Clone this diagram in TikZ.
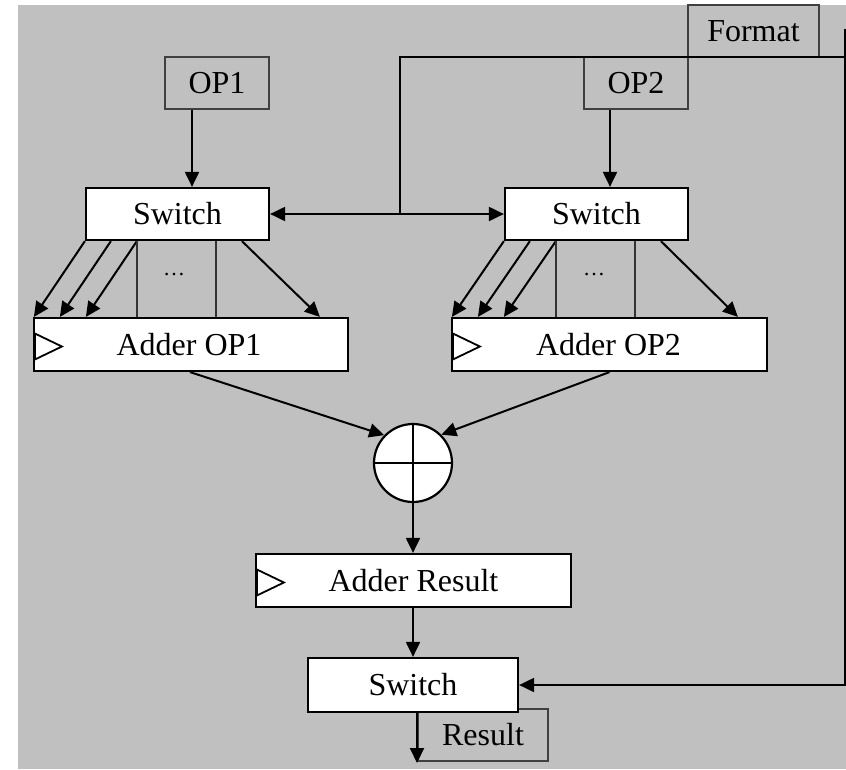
\documentclass[tikz,border=0pt]{standalone}
\usepackage{fontspec}
\setmainfont{Liberation Serif}
\usetikzlibrary{arrows.meta,calc}
\begin{document}
\begin{tikzpicture}[x=1pt,y=-1pt,
  every node/.style={font=\fontsize{32}{38}\selectfont, inner sep=0pt},
  blk/.style={draw=black, fill=white, line width=2.2pt, rectangle},
  lbl/.style={draw=black!75, line width=1.4pt, rectangle},
  conn/.style={line width=2pt, draw=black},
  arr/.style={conn, -{Triangle[length=15pt,width=14pt]}},
  thin/.style={line width=1.3pt, draw=black!80},
  sumc/.style={draw=black, fill=white, line width=2.2pt, circle, minimum size=78pt},
  trig/.style={draw=black, fill=white, line width=1.8pt, line join=miter}
]
% canvas
\useasboundingbox (0,0) rectangle (846,769);
\fill[white] (0,0) rectangle (846,769);
\fill[fill={rgb,255:red,192;green,192;blue,192}] (18,5) rectangle (846,769);

% label boxes
\node[lbl, minimum width=131pt, minimum height=52pt] (fmt) at (753.5,31) {Format};
\node[lbl, minimum width=104pt, minimum height=52pt] (op1) at (217,83) {OP1};
\node[lbl, minimum width=104pt, minimum height=52pt] (op2) at (636,83) {OP2};
\node[lbl, minimum width=130pt, minimum height=52pt] (res) at (483,735) {Result};

% blocks
\node[blk, minimum width=183pt, minimum height=52pt] (sw1) at (177.5,214) {Switch};
\node[blk, minimum width=183pt, minimum height=52pt] (sw2) at (596.5,214) {Switch};
\node[blk, minimum width=314pt, minimum height=53pt] (ad1) at (191,344.5) {\hspace*{-4pt}Adder OP1};
\node[blk, minimum width=315pt, minimum height=53pt] (ad2) at (609.5,344.5) {\hspace*{-2pt}Adder OP2};
\node[sumc] (sum) at (413,463) {};
\node[blk, minimum width=315pt, minimum height=53pt] (adr) at (413.5,580.5) {Adder Result};
\node[blk, minimum width=210pt, minimum height=54pt] (sw3) at (413,685) {Switch};

% clock triangles
\draw[trig] ($(ad1.west)+(2,-11)$) -- ++(27,13) -- ++(-27,13) -- cycle;
\draw[trig] ($(ad2.west)+(2,-11)$) -- ++(27,13) -- ++(-27,13) -- cycle;
\draw[trig] ($(adr.west)+(2,-11)$) -- ++(27,13) -- ++(-27,13) -- cycle;

% adder cross
\draw[line width=2pt] (sum.north) -- (sum.south);
\draw[line width=2pt] (sum.west) -- (sum.east);

% coordinates for the format bus
\coordinate (ftop) at (845,29);
\coordinate (fcor) at (845,57);
\coordinate (tl) at (400,57);
\coordinate (jn) at (400,214);
\coordinate (out) at (417,763);

% inputs
\draw[arr] (op1.south -| 192,0) -- (sw1.north -| 192,0);
\draw[arr] (op2.south -| 610,0) -- (sw2.north -| 610,0);

% format bus
\draw[conn] (fcor) -- (tl) -- (jn);
\draw[arr] (jn) -- (sw1.east);
\draw[arr] (jn) -- (sw2.west);
\draw[arr] (ftop) |- (sw3.east);

% switch -> adder fans
\foreach \s/\a in {sw1/ad1, sw2/ad2}{
  \draw[arr] (\s.south west) -- ([xshift=1pt]\a.north west);
  \draw[arr] ([xshift=26pt]\s.south west) -- ([xshift=27pt]\a.north west);
  \draw[arr] ([xshift=52pt]\s.south west) -- ([xshift=53pt]\a.north west);
  \draw[arr] ([xshift=157pt]\s.south west) -- ([xshift=287pt]\a.north west);
  \draw[thin] ([xshift=52pt]\s.south west) -- ([xshift=52pt]\s.south west |- \a.north);
  \draw[thin] ([xshift=131pt]\s.south west) -- ([xshift=131pt]\s.south west |- \a.north);
}
\node[font=\fontsize{22}{26}\selectfont] (dots1) at (174,275) {\dots};
\node[font=\fontsize{22}{26}\selectfont] (dots2) at (594,275) {\dots};

% into the sum
\draw[arr] ([xshift=-1pt]ad1.south) -- (sum.136);
\draw[arr] (ad2.south) -- (sum.45);
\draw[arr] (sum.south) -- (sum.south |- adr.north);
\draw[arr] (adr.south -| sw3.south) -- (sw3.north);
\draw[arr] ([xshift=4pt]sw3.south) -- (out);
\end{tikzpicture}
\end{document}
